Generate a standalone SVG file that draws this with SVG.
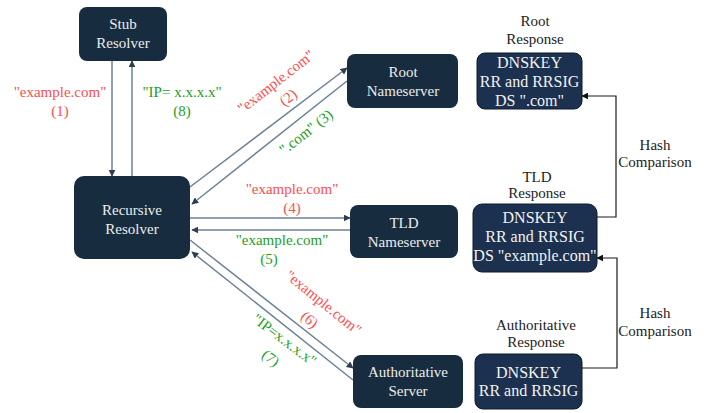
<svg xmlns="http://www.w3.org/2000/svg" width="712" height="413" viewBox="0 0 712 413">
<style>
text{font-family:'Liberation Serif','Times New Roman',Tinos,'DejaVu Serif',serif;}
.node{fill:#182c3f;}
.resp{fill:#1c3050;stroke:#0d1a2a;stroke-width:1;}
.nt{font-size:15px;fill:#ececec;text-anchor:middle;}
.rt{font-size:16px;fill:#f2f2f2;text-anchor:middle;}
.lb{font-size:15px;fill:#222;text-anchor:middle;}
.red{font-size:15px;fill:#ff4d4d;text-anchor:middle;}
.grn{font-size:15px;fill:#22a022;text-anchor:middle;}
.c{stroke:#6d8296;stroke-width:1.5;fill:none;marker-end:url(#ah);}
.h{stroke:#1a1a1a;stroke-width:1.2;fill:none;marker-end:url(#hb);}
</style>
<defs>
<marker id="ah" viewBox="0 0 10 10" refX="9" refY="5" markerWidth="7" markerHeight="7" markerUnits="userSpaceOnUse" orient="auto">
<path d="M0,0 L10,5 L0,10 z" fill="#2c3e50"/>
</marker>
<marker id="hb" viewBox="0 0 10 10" refX="9" refY="5" markerWidth="7" markerHeight="7" markerUnits="userSpaceOnUse" orient="auto">
<path d="M0,0 L10,5 L0,10 z" fill="#111"/>
</marker>
</defs>

<g id="connectors">
<line class="c" x1="112" y1="61" x2="112" y2="176"/>
<line class="c" x1="132" y1="176" x2="132" y2="61"/>
<line class="c" x1="190" y1="187" x2="347" y2="68"/>
<line class="c" x1="347" y1="81" x2="192" y2="204"/>
<line class="c" x1="190" y1="218" x2="350" y2="218"/>
<line class="c" x1="350" y1="230" x2="192" y2="230"/>
<line class="c" x1="190" y1="240" x2="353" y2="368"/>
<line class="c" x1="353" y1="380" x2="192" y2="252"/>
<polyline class="h" points="597,217 616,217 616,96 582,96"/>
<polyline class="h" points="582,368 617,368 617,258 597,258"/>
</g>

<g id="labels" font-family="Liberation Serif, serif">
<text class="red" x="60" y="97">"example.com"</text>
<text class="red" x="60" y="116">(1)</text>
<text class="grn" x="182" y="97">"IP= x.x.x.x"</text>
<text class="grn" x="182" y="116">(8)</text>
<g transform="translate(282,89.5) rotate(-38)">
<text class="red" x="0" y="-5">"example.com"</text>
<text class="red" x="0" y="15">(2)</text>
</g>
<g transform="translate(306,132) rotate(-38)">
<text class="grn" x="0" y="5">".com"  (3)</text>
</g>
<text class="red" x="292" y="194">"example.com"</text>
<text class="red" x="292" y="213">(4)</text>
<text class="grn" x="282" y="245">"example.com"</text>
<text class="grn" x="269" y="264">(5)</text>
<g transform="translate(316.5,311) rotate(39)">
<text class="red" x="0" y="-6">"example.com"</text>
<text class="red" x="0" y="16">(6)</text>
</g>
<g transform="translate(278,348.5) rotate(37)">
<text class="grn" x="0" y="-6">"IP=x.x.x.x"</text>
<text class="grn" x="0" y="17">(7)</text>
</g>
<text class="lb" x="535" y="26">Root</text>
<text class="lb" x="535" y="44">Response</text>
<text class="lb" x="537" y="182">TLD</text>
<text class="lb" x="537" y="198">Response</text>
<text class="lb" x="536" y="330">Authoritative</text>
<text class="lb" x="536" y="347">Response</text>
<text class="lb" x="655" y="150">Hash</text>
<text class="lb" x="655" y="167">Comparison</text>
<text class="lb" x="655" y="318">Hash</text>
<text class="lb" x="655" y="336">Comparison</text>
</g>

<g id="stub">
<rect class="node" x="79" y="7" width="88" height="54" rx="8"/>
<text class="nt" x="123" y="29">Stub</text>
<text class="nt" x="123" y="48">Resolver</text>
</g>
<g id="recursive">
<rect class="node" x="74" y="176" width="116" height="83" rx="10"/>
<text class="nt" x="132" y="215">Recursive</text>
<text class="nt" x="132" y="234">Resolver</text>
</g>
<g id="root-ns">
<rect class="node" x="347" y="54" width="111" height="54" rx="8"/>
<text class="nt" x="403" y="77">Root</text>
<text class="nt" x="403" y="96">Nameserver</text>
</g>
<g id="tld-ns">
<rect class="node" x="350" y="205" width="108" height="53" rx="8"/>
<text class="nt" x="404" y="228">TLD</text>
<text class="nt" x="404" y="247">Nameserver</text>
</g>
<g id="auth-server">
<rect class="node" x="353" y="355" width="110" height="53" rx="8"/>
<text class="nt" x="408" y="377">Authoritative</text>
<text class="nt" x="408" y="396">Server</text>
</g>
<g id="root-response">
<rect class="resp" x="477" y="53" width="105" height="56" rx="8"/>
<text class="rt" x="529.5" y="68">DNSKEY</text>
<text class="rt" x="529.5" y="87">RR and RRSIG</text>
<text class="rt" x="529.5" y="106">DS ".com"</text>
</g>
<g id="tld-response">
<rect class="resp" x="473" y="204" width="124" height="68" rx="9"/>
<text class="rt" x="535" y="223">DNSKEY</text>
<text class="rt" x="535" y="242">RR and RRSIG</text>
<text class="rt" x="535" y="261">DS "example.com"</text>
</g>
<g id="auth-response">
<rect class="resp" x="475" y="354" width="107" height="55" rx="8"/>
<text class="rt" x="528.5" y="378">DNSKEY</text>
<text class="rt" x="528.5" y="396">RR and RRSIG</text>
</g>
</svg>
